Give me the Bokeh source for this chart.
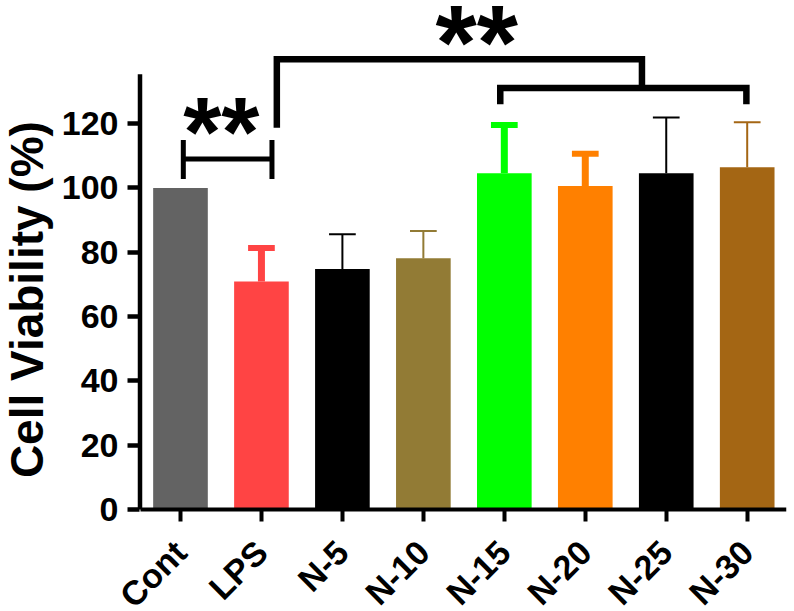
import math

from bokeh.core.properties import value
from bokeh.embed import file_html
from bokeh.models import ColumnDataSource, FixedTicker, Range1d
from bokeh.plotting import figure
from bokeh.resources import INLINE

# ---- data -----------------------------------------------------------------
categories = ["Cont", "LPS", "N-5", "N-10", "N-15", "N-20", "N-25", "N-30"]
viability = [100.0, 70.9, 74.8, 78.1, 104.6, 100.6, 104.6, 106.4]   # mean, %
sd = [0.0, 10.4, 10.8, 8.5, 15.0, 10.0, 17.3, 14.0]                 # upper error
y_ticks = [0, 20, 40, 60, 80, 100, 120]

# ---- styling --------------------------------------------------------------
bar_colors = ["#636363", "#FF4444", "#000000", "#927B35",
              "#00FF00", "#FF8000", "#000000", "#A46614"]
err_stem_w = [0, 7, 2, 2, 7, 7, 2, 2]
err_cap_w = [0, 6, 2, 2, 6, 6, 2, 2]
FONT = "Liberation Sans"
NBSP = "\u00a0"

x = list(range(len(categories)))
tops = [m + s for m, s in zip(viability, sd)]
cap_half = 0.165

src = ColumnDataSource(dict(
    x=x, top=viability, err_top=tops, color=bar_colors,
    cap_l=[i - cap_half for i in x], cap_r=[i + cap_half for i in x],
    stem_w=err_stem_w, cap_w=err_cap_w,
))

Y_AXIS_TOP = 135.4
X_LEFT = -0.5          # where the value axis line sits
Y_TICK_BASE = -0.531   # ticks and labels of the value axis hang from here

# The frame fills the canvas; both axes are pinned inside it so the slanted
# category labels and the axis title have room without extra borders.
p = figure(width=794, height=611, output_backend="svg", toolbar_location=None,
           x_range=Range1d(-2.2231, 7.4854), y_range=Range1d(-31.73, 158.3),
           min_border_left=0, min_border_right=8,
           min_border_top=0, min_border_bottom=0)
p.outline_line_color = None
p.grid.visible = False
p.background_fill_color = "white"

# bars
p.vbar(x="x", top="top", width=0.675, bottom=0, color="color",
       line_color=None, source=src)

# error bars: stem and cap
p.segment(x0="x", y0="top", x1="x", y1="err_top", line_color="color",
          line_width="stem_w", line_cap="butt", source=src)
p.segment(x0="cap_l", y0="err_top", x1="cap_r", y1="err_top",
          line_color="color", line_width="cap_w", line_cap="butt", source=src)

# value axis line, from zero to just above the top tick
p.segment(x0=[X_LEFT], y0=[0], x1=[X_LEFT], y1=[Y_AXIS_TOP],
          line_color="black", line_width=4.5, line_cap="butt")

# significance: Cont vs LPS
b1_l, b1_r, b1_y = 0 + 0.035, 1 + 0.13, 109.0
p.segment(x0=[b1_l], y0=[b1_y], x1=[b1_r], y1=[b1_y],
          line_color="black", line_width=5, line_cap="butt")
p.segment(x0=[b1_l, b1_r], y0=[102.8, 102.8], x1=[b1_l, b1_r], y1=[114.9, 114.9],
          line_color="black", line_width=5, line_cap="butt")
p.text(x=[0.505], y=[117.5], text=["**"], text_align="center",
       text_baseline="alphabetic", text_font=value(FONT),
       text_font_style="bold", text_font_size="98px", text_color="black")

# significance: LPS vs N-15..N-30
b2_l, b2_r, b2_y = 1 + 0.19, 5.70, 140.0
b3_l, b3_r, b3_y = 4 - 0.05, 7 - 0.01, 131.1
p.multi_line(xs=[[b2_l, b2_l, b2_r, b2_r], [b3_l, b3_l, b3_r, b3_r]],
             ys=[[118.7, b2_y, b2_y, b3_y], [126.0, b3_y, b3_y, 126.0]],
             line_color="black", line_width=6.5, line_join="miter", line_cap="butt")
p.text(x=[3.66], y=[145.5], text=["**"], text_align="center",
       text_baseline="alphabetic", text_font=value(FONT),
       text_font_style="bold", text_font_size="106px", text_color="black")

# category axis
xa = p.xaxis[0]
xa.fixed_location = 0
xa.bounds = (X_LEFT, 7.5)
xa.ticker = FixedTicker(ticks=x)
xa.major_label_overrides = {i: c for i, c in zip(x, categories)}
xa.major_label_orientation = math.pi / 4
xa.minor_tick_line_color = None
xa.axis_line_width = 4
xa.major_tick_line_width = 4
xa.major_tick_out = 12
xa.major_tick_in = 0
xa.major_label_text_font = FONT
xa.major_label_text_font_style = "bold"
xa.major_label_text_font_size = "34px"
xa.major_label_text_color = "black"
xa.major_label_standoff = 25

# value axis (its line is the segment drawn above)
ya = p.yaxis[0]
ya.fixed_location = Y_TICK_BASE
ya.ticker = FixedTicker(ticks=y_ticks)
ya.minor_tick_line_color = None
ya.axis_line_color = None
ya.major_tick_line_width = 4.5
ya.major_tick_out = 10
ya.major_tick_in = 2
ya.major_label_text_font = FONT
ya.major_label_text_font_style = "bold"
ya.major_label_text_font_size = "34px"
ya.major_label_text_color = "black"
ya.major_label_standoff = 9
# a leading no-break space lifts the centred title onto the drawn axis span
ya.axis_label = NBSP + "Cell Viability (%)"
ya.axis_label_text_font = FONT
ya.axis_label_text_font_style = "bold"
ya.axis_label_text_font_size = "46px"
ya.axis_label_text_color = "black"
ya.axis_label_standoff = 6

open("out.html", "w").write(file_html(p, INLINE))
